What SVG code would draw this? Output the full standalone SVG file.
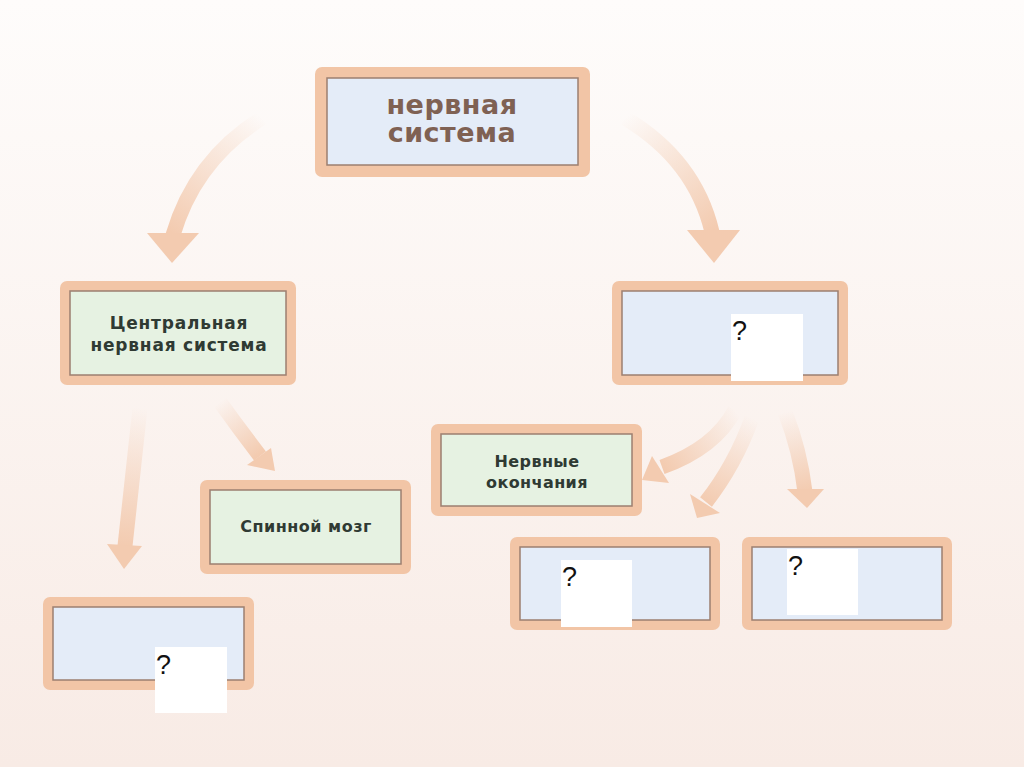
<svg xmlns="http://www.w3.org/2000/svg" width="1024" height="767" viewBox="0 0 1024 767">
<defs>
<linearGradient id="bg" x1="0" y1="0" x2="0" y2="1">
<stop offset="0" stop-color="#fefcfb"/>
<stop offset="1" stop-color="#f8ebe5"/>
</linearGradient>
<linearGradient id="a1" gradientUnits="userSpaceOnUse" x1="262" y1="118" x2="175" y2="235"><stop offset="0" stop-color="#f3cbb0" stop-opacity="0"/><stop offset="1" stop-color="#f3cbb0"/></linearGradient>
<linearGradient id="a2" gradientUnits="userSpaceOnUse" x1="625" y1="118" x2="712" y2="232"><stop offset="0" stop-color="#f3cbb0" stop-opacity="0"/><stop offset="1" stop-color="#f3cbb0"/></linearGradient>
<linearGradient id="a3" gradientUnits="userSpaceOnUse" x1="140" y1="408" x2="125" y2="546"><stop offset="0" stop-color="#f3cbb0" stop-opacity="0"/><stop offset="1" stop-color="#f3cbb0"/></linearGradient>
<linearGradient id="a4" gradientUnits="userSpaceOnUse" x1="220" y1="402" x2="258" y2="455"><stop offset="0" stop-color="#f3cbb0" stop-opacity="0"/><stop offset="1" stop-color="#f3cbb0"/></linearGradient>
<linearGradient id="a5" gradientUnits="userSpaceOnUse" x1="735" y1="410" x2="662" y2="465"><stop offset="0" stop-color="#f3cbb0" stop-opacity="0"/><stop offset="1" stop-color="#f3cbb0"/></linearGradient>
<linearGradient id="a6" gradientUnits="userSpaceOnUse" x1="752" y1="418" x2="705" y2="502"><stop offset="0" stop-color="#f3cbb0" stop-opacity="0"/><stop offset="1" stop-color="#f3cbb0"/></linearGradient>
<linearGradient id="a7" gradientUnits="userSpaceOnUse" x1="785" y1="412" x2="805" y2="492"><stop offset="0" stop-color="#f3cbb0" stop-opacity="0"/><stop offset="1" stop-color="#f3cbb0"/></linearGradient>
</defs>
<style>
.frame{fill:#f2c5a6}
.inb{fill:#e4ecf8;stroke:#9c7f70;stroke-width:1.5}
.ing{fill:#e6f2e2;stroke:#9c7f70;stroke-width:1.5}
.lbl{font-family:"DejaVu Sans",Verdana,sans-serif;font-weight:bold;fill:#2f3a33;text-anchor:middle}
.top{font-family:"DejaVu Sans",Verdana,sans-serif;font-weight:bold;fill:#7f6153;text-anchor:middle;font-size:27px;letter-spacing:0.5px}
.blank{fill:#ffffff}
.q{font-family:"Liberation Sans",Arial,sans-serif;font-size:27px;fill:#111}
.body{fill:none;stroke-width:15;stroke-linecap:butt}
.head{fill:#f3cbb0}
</style>
<rect x="0" y="0" width="1024" height="767" fill="url(#bg)"/>

<g id="connectors">
<path class="body" stroke="url(#a1)" d="M262,118 Q195,160 173,235"/>
<polygon class="head" points="147,233 199,233 172,263"/>
<path class="body" stroke="url(#a2)" d="M625,118 Q695,160 712,232"/>
<polygon class="head" points="687,230 740,230 714,263"/>
<path class="body" stroke="url(#a3)" stroke-width="12" d="M140,408 L125,546"/>
<polygon class="head" points="107,544 142,546 124,569"/>
<path class="body" stroke="url(#a4)" stroke-width="11" d="M220,402 Q240,430 260,456"/>
<polygon class="head" points="247,465 275,471 271,448"/>
<path class="body" stroke="url(#a5)" stroke-width="12" d="M735,410 Q715,448 662,467"/>
<polygon class="head" points="652,456 642,480 669,483"/>
<path class="body" stroke="url(#a6)" stroke-width="11" d="M752,418 Q735,465 706,502"/>
<polygon class="head" points="690,494 697,518 720,513"/>
<path class="body" stroke="url(#a7)" stroke-width="11" d="M785,412 Q800,450 805,492"/>
<polygon class="head" points="787,489 824,489 807,508"/>
</g>

<g id="node-top">
<rect class="frame" x="315" y="67" width="275" height="110" rx="7"/>
<rect class="inb" x="327" y="78" width="251" height="87"/>
<text class="top" x="452" y="114">нервная</text>
<text class="top" x="452" y="142">система</text>
</g>

<g id="node-cns">
<rect class="frame" x="60" y="281" width="236" height="104" rx="7"/>
<rect class="ing" x="70" y="291" width="216" height="84"/>
<text class="lbl" x="179" y="329" font-size="17" letter-spacing="0.8">Центральная</text>
<text class="lbl" x="179" y="351" font-size="17" letter-spacing="0.8">нервная система</text>
</g>

<g id="node-pns">
<rect class="frame" x="612" y="281" width="236" height="104" rx="7"/>
<rect class="inb" x="622" y="291" width="216" height="84"/>
<rect class="blank" x="731" y="314" width="72" height="67"/>
<text class="q" x="732" y="340">?</text>
</g>

<g id="node-endings">
<rect class="frame" x="431" y="424" width="211" height="92" rx="7"/>
<rect class="ing" x="441" y="434" width="191" height="72"/>
<text class="lbl" x="537" y="467" font-size="16" letter-spacing="0.4">Нервные</text>
<text class="lbl" x="537" y="488" font-size="16" letter-spacing="0.4">окончания</text>
</g>

<g id="node-spinal">
<rect class="frame" x="200" y="480" width="211" height="94" rx="7"/>
<rect class="ing" x="210" y="490" width="191" height="74"/>
<text class="lbl" x="306" y="532" font-size="16" letter-spacing="0.5">Спинной мозг</text>
</g>

<g id="node-bl">
<rect class="frame" x="43" y="597" width="211" height="93" rx="7"/>
<rect class="inb" x="53" y="607" width="191" height="73"/>
<rect class="blank" x="155" y="647" width="72" height="66"/>
<text class="q" x="156" y="674">?</text>
</g>

<g id="node-bm">
<rect class="frame" x="510" y="537" width="210" height="93" rx="7"/>
<rect class="inb" x="520" y="547" width="190" height="73"/>
<rect class="blank" x="561" y="560" width="71" height="67"/>
<text class="q" x="562" y="586">?</text>
</g>

<g id="node-br">
<rect class="frame" x="742" y="537" width="210" height="93" rx="7"/>
<rect class="inb" x="752" y="547" width="190" height="73"/>
<rect class="blank" x="787" y="549" width="71" height="66"/>
<text class="q" x="788" y="575">?</text>
</g>
</svg>
